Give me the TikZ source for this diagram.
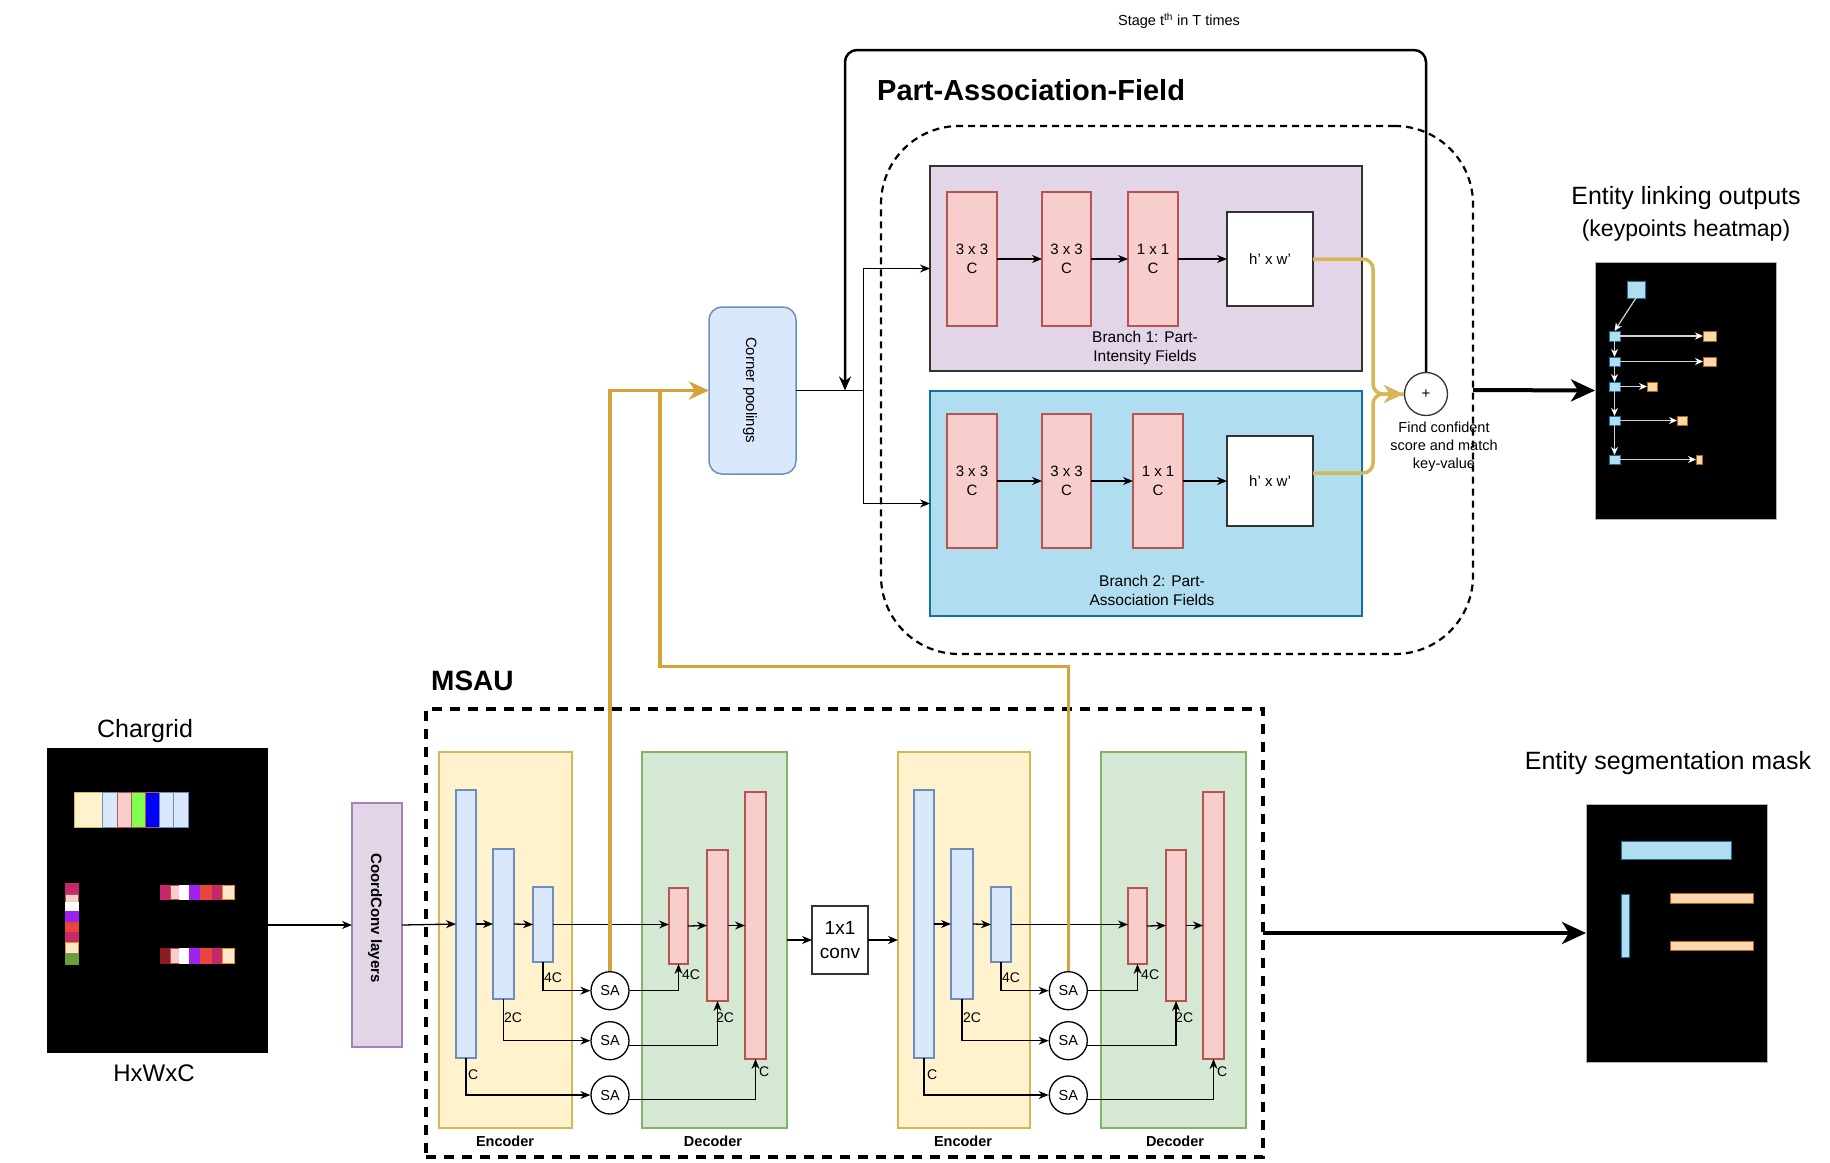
\documentclass[tikz,border=0pt]{standalone}
\usepackage{fontspec}
\setmainfont{Liberation Sans}
\usetikzlibrary{arrows.meta,fit}
\definecolor{cpink}{HTML}{F8CECC}
\definecolor{cpinkd}{HTML}{B85450}
\definecolor{cblue}{HTML}{DAE8FC}
\definecolor{cblued}{HTML}{6C8EBF}
\definecolor{cyel}{HTML}{FFF2CC}
\definecolor{cyeld}{HTML}{D6B656}
\definecolor{cgrn}{HTML}{D5E8D4}
\definecolor{cgrnd}{HTML}{82B366}
\definecolor{cpur}{HTML}{E1D5E7}
\definecolor{cpurd}{HTML}{A680B8}
\definecolor{csky}{HTML}{B1DDF0}
\definecolor{cskyd}{HTML}{10739E}
\definecolor{corg}{HTML}{FAD7AC}
\definecolor{corgd}{HTML}{B46504}
\definecolor{cgold}{HTML}{D6A23A}
\definecolor{cgoldb}{HTML}{D6B656}
\definecolor{cdark}{HTML}{333333}
\definecolor{ccrim}{HTML}{C42A6B}
\definecolor{cvio}{HTML}{A020F0}
\definecolor{cred}{HTML}{E8453C}
\definecolor{ccream}{HTML}{FFE6CC}
\definecolor{ccreamd}{HTML}{D79B00}
\definecolor{cgreen}{HTML}{7FFF50}
\definecolor{cdgreen}{HTML}{6A9E3A}
\definecolor{cdred}{HTML}{8B1A22}
\begin{document}
\begin{tikzpicture}[x=1pt,y=-1pt,
  box/.style={inner sep=0pt, outer sep=0pt, line width=1.5pt},
  pinkb/.style={box, fill=cpink, draw=cpinkd},
  blueb/.style={box, fill=cblue, draw=cblued},
  yelb/.style={box, fill=cyel, draw=cyeld},
  grnb/.style={box, fill=cgrn, draw=cgrnd},
  whiteb/.style={box, fill=white, draw=cdark},
  sab/.style={circle, draw=black, fill=white, line width=1.3pt, minimum size=38pt, inner sep=0pt, font=\fontsize{14.5}{17}\selectfont},
  arr/.style={line width=1.3pt, -{Stealth[length=10pt,width=8pt]}},
  lab/.style={inner sep=0pt, anchor=west, font=\fontsize{14}{16}\selectfont},
  partcap/.style={inner sep=0pt, font=\bfseries\fontsize{14.5}{17}\selectfont},
  txt15/.style={inner sep=0pt, align=center, font=\fontsize{15}{18.5}\selectfont},
  thickarr/.style={line width=4pt, -{Stealth[length=24pt,width=22pt,inset=7pt]}},
  goldln/.style={draw=cgold, line width=3.5pt},
  goldarr/.style={goldln, -{Stealth[length=20pt,width=18pt,inset=6pt]}},
  kparr/.style={draw=white!65!gray, line width=1.2pt, -{Stealth[length=8pt,width=7pt,color=white]}},
  cell/.style={line width=0.8pt}
]
\useasboundingbox (0,0) rectangle (1830,1162);

% ---------- Chargrid ----------
\node[box, fit={(48,749)(267,1052)}, fill=black, draw=black] (chargrid) {};
\node[font=\fontsize{25}{30}\selectfont] (chartitle) at (145,731) {Chargrid};
\node[font=\fontsize{24}{28}\selectfont] (charsize) at (154,1073) {HxWxC};
% top row
\draw[cell, fill=cyel, draw=cyeld] (74,792) rectangle (102,827);
\draw[cell, fill=cblue, draw=cblued] (102,792) rectangle (117,827);
\draw[cell, fill=cpink, draw=cpinkd] (117,792) rectangle (131,827);
\draw[cell, fill=cgreen, draw=cpinkd] (131,792) rectangle (145,827);
\draw[cell, fill=blue, draw=cpinkd] (145,792) rectangle (159,827);
\draw[cell, fill=cblue, draw=cblued] (159,792) rectangle (173,827);
\draw[cell, fill=cblue, draw=cblued] (173,792) rectangle (188,827);
% vertical column
\draw[cell, fill=ccrim, draw=ccrim] (65,883) rectangle (78,894);
\draw[cell, fill=cpink, draw=cpinkd] (65,894) rectangle (78,902);
\draw[cell, fill=white, draw=white] (65,902) rectangle (78,911);
\draw[cell, fill=cvio, draw=cvio] (65,911) rectangle (78,922);
\draw[cell, fill=cred, draw=cred] (65,922) rectangle (78,932);
\draw[cell, fill=ccrim, draw=ccrim] (65,932) rectangle (78,942);
\draw[cell, fill=ccream, draw=ccreamd] (65,942) rectangle (78,953);
\draw[cell, fill=cdgreen, draw=cdgreen] (65,953) rectangle (78,964);
% row 1
\draw[cell, fill=ccrim, draw=ccrim] (160,885) rectangle (170,899);
\draw[cell, fill=cpink, draw=cpinkd] (170,885) rectangle (179,899);
\draw[cell, fill=white, draw=white] (179,885) rectangle (189,899);
\draw[cell, fill=cvio, draw=cvio] (189,885) rectangle (200,899);
\draw[cell, fill=cred, draw=cred] (200,885) rectangle (212,899);
\draw[cell, fill=ccrim, draw=ccrim] (212,885) rectangle (222,899);
\draw[cell, fill=ccream, draw=ccreamd] (222,885) rectangle (234,899);
% row 2
\draw[cell, fill=cdred, draw=cdred] (160,948) rectangle (170,963);
\draw[cell, fill=cpink, draw=cpinkd] (170,948) rectangle (179,963);
\draw[cell, fill=white, draw=white] (179,948) rectangle (189,963);
\draw[cell, fill=cvio, draw=cvio] (189,948) rectangle (200,963);
\draw[cell, fill=cred, draw=cred] (200,948) rectangle (212,963);
\draw[cell, fill=ccrim, draw=ccrim] (212,948) rectangle (222,963);
\draw[cell, fill=ccream, draw=ccreamd] (222,948) rectangle (234,963);

% ---------- CoordConv ----------
\node[box, fit={(352,803)(402,1047)}, fill=cpur, draw=cpurd] (coord) {};
\node[rotate=-90, inner sep=0pt, font=\bfseries\fontsize{15}{18}\selectfont] (coordtxt) at (375,918) {CoordConv layers};
\draw[arr] (chargrid.east |- coord.west) -- (coord.west);

% ---------- MSAU ----------
\node[box, fit={(426,709)(1263,1157)}, draw=black, line width=3.5pt, dash pattern=on 10pt off 8pt] (msau) {};
\node[anchor=west, inner sep=0pt, font=\bfseries\fontsize{28}{32}\selectfont] (msaut) at (431,681) {MSAU};

\node[yelb, fit={(439,752)(572,1128)}] (enc1) {};
\node[grnb, fit={(642,752)(787,1128)}] (dec1) {};
\node[yelb, fit={(898,752)(1030,1128)}] (enc2) {};
\node[grnb, fit={(1101,752)(1246,1128)}] (dec2) {};
\node[partcap] (enc1t) at (505,1141) {Encoder};
\node[partcap] (dec1t) at (713,1141) {Decoder};
\node[partcap] (enc2t) at (963,1141) {Encoder};
\node[partcap] (dec2t) at (1175,1141) {Decoder};

% bars stage 1
\node[blueb, fit={(456,790)(476,1058)}] (e1a) {};
\node[blueb, fit={(493,849)(514,999)}] (e1b) {};
\node[blueb, fit={(533,887)(553,962)}] (e1c) {};
\node[pinkb, fit={(669,888)(688,964)}] (d1a) {};
\node[pinkb, fit={(707,850)(728,1001)}] (d1b) {};
\node[pinkb, fit={(745,792)(766,1059)}] (d1c) {};
% bars stage 2
\node[blueb, fit={(914,790)(934,1058)}] (e2a) {};
\node[blueb, fit={(951,849)(973,999)}] (e2b) {};
\node[blueb, fit={(991,887)(1011,962)}] (e2c) {};
\node[pinkb, fit={(1128,888)(1147,964)}] (d2a) {};
\node[pinkb, fit={(1166,850)(1186,1001)}] (d2b) {};
\node[pinkb, fit={(1203,792)(1224,1059)}] (d2c) {};

% SA circles
\node[sab] (sa1) at (610,990.7) {SA};
\node[sab] (sa2) at (610,1040.7) {SA};
\node[sab] (sa3) at (610,1095) {SA};
\node[sab] (sb1) at (1068.3,990.7) {SA};
\node[sab] (sb2) at (1068.3,1040.7) {SA};
\node[sab] (sb3) at (1068.3,1095) {SA};

% 1x1 conv
\node[whiteb, fit={(812,906)(868,974)}] (conv) {};
\node[txt15, font=\fontsize{19}{24}\selectfont] (convt) at (840,940) {1x1\\conv};

% main flow arrows
\draw[arr] (coord.east) -- (e1a.west);
\draw[arr] (e1a.east) -- (e1b.west);
\draw[arr] (e1b.east) -- (e1c.west);
\draw[arr] (e1c.east) -- (e1c.east -| d1a.west);
\draw[arr] (d1a.east) -- (d1b.west);
\draw[arr] (d1b.east) -- (d1c.west);
\draw[arr] (dec1.east |- conv.west) -- (conv.west);
\draw[arr] (conv.east) -- (conv.east -| enc2.west);
\draw[arr] (e2a.east) -- (e2b.west);
\draw[arr] (e2b.east) -- (e2c.west);
\draw[arr] (e2c.east) -- (e2c.east -| d2a.west);
\draw[arr] (d2a.east) -- (d2b.west);
\draw[arr] (d2b.east) -- (d2c.west);

% skip connections stage 1
\draw[arr] (e1c.south) |- (sa1.west);
\draw[arr] (e1b.south) |- (sa2.west);
\draw[arr] (e1a.south) |- (sa3.west);
\draw[arr] (sa1.east) -| (d1a.south);
\draw[arr] (sa2.-14) -| (d1b.south);
\draw[arr] (sa3.-14) -| (d1c.south);
\node[lab] (l1a) at (544,978) {4C};
\node[lab] (l1b) at (504,1018) {2C};
\node[lab] (l1c) at (468,1075) {C};
\node[lab] (l1d) at (682,975) {4C};
\node[lab] (l1e) at (716,1018) {2C};
\node[lab] (l1f) at (759,1072) {C};
% skip connections stage 2
\draw[arr] (e2c.south) |- (sb1.west);
\draw[arr] (e2b.south) |- (sb2.west);
\draw[arr] (e2a.south) |- (sb3.west);
\draw[arr] (sb1.east) -| (d2a.south);
\draw[arr] (sb2.-14) -| (d2b.south);
\draw[arr] (sb3.-14) -| (d2c.south);
\node[lab] (l2a) at (1002,978) {4C};
\node[lab] (l2b) at (963,1018) {2C};
\node[lab] (l2c) at (927,1075) {C};
\node[lab] (l2d) at (1141,975) {4C};
\node[lab] (l2e) at (1175,1018) {2C};
\node[lab] (l2f) at (1217,1072) {C};

% ---------- Entity segmentation mask ----------
\node[box, fit={(1586,804)(1767,1062)}, fill=black, draw=gray!60, line width=1pt] (mask) {};
\node[font=\fontsize{25}{30}\selectfont] (maskt) at (1668,763) {Entity segmentation mask};
\draw[line width=1pt, fill=csky, draw=cskyd] (1621,841) rectangle (1731,859);
\draw[line width=1pt, fill=csky, draw=cskyd] (1621,894) rectangle (1629,957);
\draw[line width=1pt, fill=corg, draw=corgd] (1670,893) rectangle (1753,903);
\draw[line width=1pt, fill=corg, draw=corgd] (1670,941) rectangle (1753,950);
\draw[thickarr] (msau.east) -- (mask.west);

% ---------- Part-Association-Field ----------
\node[box, fit={(881,126)(1473,654)}, draw=black, line width=2.2pt, dash pattern=on 7pt off 5pt, rounded corners=78pt] (paf) {};
\node[anchor=west, inner sep=0pt, font=\bfseries\fontsize{29}{34}\selectfont] (paft) at (877,90) {Part-Association-Field};
\node[inner sep=0pt, font=\fontsize{14.5}{17}\selectfont] (stage) at (1179,21) {Stage t\textsuperscript{th} in T times};

% corner pooling
\node[box, fit={(709,307)(796,474)}, fill=cblue, draw=cblued, rounded corners=13pt] (cp) {};
\node[rotate=-90, inner sep=0pt, font=\fontsize{15}{18}\selectfont] (cpt) at (750,390) {Corner poolings};

% branches
\node[box, fit={(930,166)(1362,371)}, fill=cpur, draw=cdark] (br1) {};
\node[box, fit={(930,391)(1362,616)}, fill=csky, draw=cskyd] (br2) {};
\node[pinkb, fit={(947,192)(997,326)}] (p1a) {};
\node[pinkb, fit={(1042,192)(1091,326)}] (p1b) {};
\node[pinkb, fit={(1128,192)(1178,326)}] (p1c) {};
\node[whiteb, fit={(1227,212)(1313,306)}] (w1) {};
\node[pinkb, fit={(947,414)(997,548)}] (p2a) {};
\node[pinkb, fit={(1042,414)(1091,548)}] (p2b) {};
\node[pinkb, fit={(1133,414)(1183,548)}] (p2c) {};
\node[whiteb, fit={(1227,436)(1313,526)}] (w2) {};
\node[txt15] (p1at) at (p1a.center) {3 x 3\\C};
\node[txt15] (p1bt) at (p1b.center) {3 x 3\\C};
\node[txt15] (p1ct) at (p1c.center) {1 x 1\\C};
\node[txt15] (w1t) at (w1.center) {h' x w'};
\node[txt15] (p2at) at (p2a.center) {3 x 3\\C};
\node[txt15] (p2bt) at (p2b.center) {3 x 3\\C};
\node[txt15] (p2ct) at (p2c.center) {1 x 1\\C};
\node[txt15] (w2t) at (w2.center) {h' x w'};
\node[txt15, font=\fontsize{15.5}{19}\selectfont] (br1t) at (1145,348) {Branch 1: Part-\\Intensity Fields};
\node[txt15, font=\fontsize{15.5}{19}\selectfont] (br2t) at (1152,590) {Branch 2: Part-\\Association Fields};
\draw[arr] (p1a.east) -- (p1b.west);
\draw[arr] (p1b.east) -- (p1c.west);
\draw[arr] (p1c.east) -- (w1.west);
\draw[arr] (p2a.east) -- (p2b.west);
\draw[arr] (p2b.east) -- (p2c.west);
\draw[arr] (p2c.east) -- (w2.west);

% junction from corner pooling
\coordinate (cj) at (863.3,390.5);
\draw[line width=1.3pt] (cp.east) -- (cj);
\draw[arr] (cj) |- (br1.west);
\draw[arr] (cj) |- (br2.west);

% plus / merge
\node[circle, draw=cdark, fill=white, line width=1.3pt, minimum size=43pt, inner sep=0pt, font=\fontsize{15}{18}\selectfont] (plus) at (1426,394) {+};
\node[txt15, font=\fontsize{14.5}{18}\selectfont] (findt) at (1444,447) {Find confident\\score and match\\key-value};
\draw[draw=cgoldb, line width=3.5pt, rounded corners=10pt] (w1.east) -- (1373,259) -- (1373,394) -- (plus.west);
\draw[draw=cgoldb, line width=3.5pt, rounded corners=10pt, -{Stealth[length=20pt,width=18pt,inset=6pt]}] ([yshift=8pt]w2.east) -- (1373,473) -- (1373,394) -- (plus.west);

% stage loop
\coordinate (lt) at (845,50);
\coordinate (loopend) at (845,390.5);
\draw[line width=2.5pt, rounded corners=12pt, -{Stealth[length=14pt,width=12pt]}] (plus.north) -- (plus.north |- lt) -- (lt) -- (loopend);

% gold feature lines
\coordinate (gj) at (660,390.5);
\coordinate (gb) at (660,666.7);
\draw[goldarr] (sa1.north) |- (cp.west);
\draw[goldln] (sb1.north) |- (gb) -- (gj);

% ---------- Keypoints heatmap ----------
\node[box, fit={(1595,262)(1776,519)}, fill=black, draw=gray!60, line width=1pt] (kp) {};
\node[font=\fontsize{25}{30}\selectfont] (kpt1) at (1686,198) {Entity linking outputs};
\node[font=\fontsize{23}{28}\selectfont] (kpt2) at (1686,231) {(keypoints heatmap)};
\draw[thickarr] (paf.east) -- (kp.west);
\node[box, line width=1pt, fill=csky, draw=cskyd, fit={(1627,281)(1645,298)}] (kb) {};
\node[box, line width=1pt, fill=csky, draw=cskyd, fit={(1609,331)(1620,341)}] (s1) {};
\node[box, line width=1pt, fill=csky, draw=cskyd, fit={(1609,357)(1620,366)}] (s2) {};
\node[box, line width=1pt, fill=csky, draw=cskyd, fit={(1609,382)(1620,391)}] (s3) {};
\node[box, line width=1pt, fill=csky, draw=cskyd, fit={(1609,416)(1620,425)}] (s4) {};
\node[box, line width=1pt, fill=csky, draw=cskyd, fit={(1609,455)(1620,464)}] (s5) {};
\node[box, line width=1pt, fill=corg, draw=corgd, fit={(1703,331)(1716,341)}] (o1) {};
\node[box, line width=1pt, fill=corg, draw=corgd, fit={(1703,357)(1716,366)}] (o2) {};
\node[box, line width=1pt, fill=corg, draw=corgd, fit={(1647,382)(1657,391)}] (o3) {};
\node[box, line width=1pt, fill=corg, draw=corgd, fit={(1677,416)(1687,425)}] (o4) {};
\node[box, line width=1pt, fill=corg, draw=corgd, fit={(1696,455)(1702,464)}] (o5) {};
\draw[kparr] (kb.south) -- (s1.north);
\draw[kparr] (s1.south) -- (s2.north);
\draw[kparr] (s2.south) -- (s3.north);
\draw[kparr] (s3.south) -- (s4.north);
\draw[kparr] (s4.south) -- (s5.north);
\draw[kparr] (s1.east) -- (o1.west);
\draw[kparr] (s2.east) -- (o2.west);
\draw[kparr] (s3.east) -- (o3.west);
\draw[kparr] (s4.east) -- (o4.west);
\draw[kparr] (s5.east) -- (o5.west);
\end{tikzpicture}
\end{document}
